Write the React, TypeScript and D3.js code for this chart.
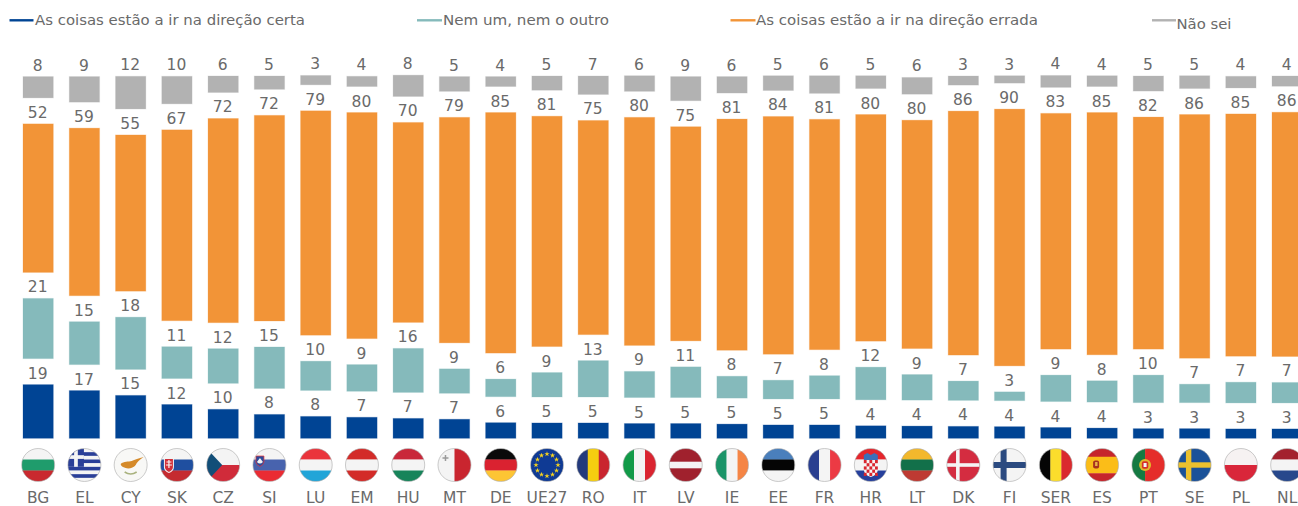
import React from "react";
import * as d3 from "d3";

const width = 1298;
const height = 506;

const countries = ["BG", "EL", "CY", "SK", "CZ", "SI", "LU", "EM", "HU", "MT", "DE", "UE27", "RO", "IT", "LV", "IE", "EE", "FR", "HR", "LT", "DK", "FI", "SER", "ES", "PT", "SE", "PL", "NL"];

// values, the labels are these rounded
const certa = [18.9, 16.8, 15.1, 11.9, 10.2, 8.4, 7.7, 7.4, 7.0, 6.7, 5.5, 5.4, 5.4, 5.2, 5.2, 5.0, 4.7, 4.7, 4.4, 4.3, 4.2, 4.1, 3.8, 3.6, 3.4, 3.4, 3.3, 3.3];
const nemNem = [21.2, 15.1, 18.4, 11.2, 12.2, 14.6, 10.3, 9.4, 15.5, 8.6, 6.2, 8.6, 12.8, 9.2, 10.8, 7.7, 6.6, 8.2, 11.5, 9.0, 6.8, 3.1, 9.3, 7.5, 9.7, 6.5, 7.3, 7.2];
const errada = [52.3, 59.0, 55.0, 67.2, 71.9, 72.4, 79.0, 79.6, 70.4, 79.4, 84.7, 81.1, 75.4, 80.3, 75.4, 81.4, 83.7, 81.1, 79.8, 80.4, 85.9, 90.4, 83.0, 85.3, 81.7, 85.8, 85.3, 86.0];
const naoSei = [7.5, 9.0, 11.5, 9.7, 5.8, 4.7, 3.3, 3.6, 7.5, 5.2, 3.5, 5.0, 6.5, 5.5, 8.5, 5.8, 5.2, 6.2, 4.5, 5.9, 3.2, 2.6, 4.2, 3.8, 5.3, 4.5, 4.1, 3.6];

// the empty part between two segments, the value labels sit in it
const spacer = 9.15;

const seriesKeys = ["certa", "gap1", "nemNem", "gap2", "errada", "gap3", "naoSei"];
const colors: Record<string, string> = { certa: "#004494", nemNem: "#85BABB", errada: "#F29437", naoSei: "#B2B2B2" };

const legend = [
  { label: "As coisas estão a ir na direção certa", key: "certa", x: 9.5, end: 33.5, textX: 35, textY: 20, fit: 270 },
  { label: "Nem um, nem o outro", key: "nemNem", x: 417, end: 442, textX: 443, textY: 20, fit: 166 },
  { label: "As coisas estão a ir na direção errada", key: "errada", x: 730.5, end: 755.5, textX: 756, textY: 20, fit: 282 },
  { label: "Não sei", key: "naoSei", x: 1152, end: 1176, textX: 1176.5, textY: 24, fit: 55 },
];

const rows = countries.map((c, i) => ({
  country: c,
  certa: certa[i],
  gap1: spacer,
  nemNem: nemNem[i],
  gap2: spacer,
  errada: errada[i],
  gap3: spacer,
  naoSei: naoSei[i],
}));

const stacked = d3.stack<any>().keys(seriesKeys)(rows);

const x = d3.scaleBand().domain(countries).range([23, 1302.3]).paddingInner(0.345).paddingOuter(0);
const y = d3.scaleLinear().domain([0, 100 + 3 * spacer]).range([438.3, 76.3]);

const FONT = "Verdana, 'DejaVu Sans', sans-serif";
const TEXT = "#6A6A6A";
const R = 16.5;

// flags are horizontal or vertical stripes, the rest is added in FlagDetail
const hStripes: Record<string, [string, number][]> = {
  BG: [["#F4F4F4", 1], ["#1F9C6C", 1], ["#C9292F", 1]],
  SK: [["#F4F4F4", 1], ["#1F4FA0", 1], ["#C52B30", 1]],
  CZ: [["#F4F4F4", 1], ["#D02B3A", 1]],
  SI: [["#F4F4F4", 1], ["#4863AE", 1], ["#EA2B33", 1]],
  LU: [["#EA343C", 1], ["#F4F4F4", 1], ["#21A5D8", 1]],
  EM: [["#D32B28", 1], ["#F4F4F4", 1], ["#D32B28", 1]],
  HU: [["#C9283A", 1], ["#F4F4F4", 1], ["#17845A", 1]],
  DE: [["#0A0A0A", 1], ["#DA2230", 1], ["#FDC534", 1]],
  LV: [["#A0212D", 2], ["#F4F4F4", 1], ["#A0212D", 2]],
  EE: [["#4A7FBC", 1], ["#050505", 1], ["#F4F4F4", 1]],
  HR: [["#E5252C", 1], ["#F4F4F4", 1], ["#26409C", 1]],
  LT: [["#F2B82C", 1], ["#12704A", 1], ["#BE3A32", 1]],
  ES: [["#C6252C", 1], ["#FBBD18", 2], ["#C6252C", 1]],
  PL: [["#F6F2F2", 1], ["#D9263A", 1]],
  NL: [["#A3222E", 1], ["#F4F4F4", 1], ["#27488C", 1]],
  DK: [["#D42C40", 1]],
  FI: [["#F4F4F4", 1]],
  SE: [["#1B5299", 1]],
  CY: [["#F8F8F6", 1]],
  UE27: [["#0F3A94", 1]],
  EL: [["#F4F4F4", 1], ["#2A3F98", 1], ["#F4F4F4", 1], ["#2A3F98", 1], ["#F4F4F4", 1], ["#2A3F98", 1], ["#F4F4F4", 1], ["#2A3F98", 1], ["#F4F4F4", 1]],
};
const vStripes: Record<string, [string, number][]> = {
  MT: [["#F4F4F4", 1], ["#C9252F", 1]],
  RO: [["#233A7C", 1], ["#F5CE10", 1], ["#C9252F", 1]],
  IT: [["#129A48", 1], ["#F4F4F4", 1], ["#DA2430", 1]],
  IE: [["#1A9468", 1], ["#F4F4F4", 1], ["#F58545", 1]],
  FR: [["#2A3F90", 1], ["#F4F4F4", 1], ["#EC3A44", 1]],
  SER: [["#050505", 1], ["#FBDD2C", 1], ["#DA2A2E", 1]],
  PT: [["#157A42", 2], ["#E52D2A", 3]],
};

function Stripes({ code }: { code: string }) {
  const h = hStripes[code];
  const v = vStripes[code];
  const parts = h || v;
  const total = d3.sum(parts, (p) => p[1]);
  const scale = d3.scaleLinear().domain([0, total]).range([-R, R]);
  let at = 0;
  return (
    <>
      {parts.map(([color, w], i) => {
        const a = scale(at);
        at += w;
        const size = scale(at) - a + (i < parts.length - 1 ? 0.3 : 0);
        return h ? (
          <rect key={i} x={-R} y={a} width={2 * R} height={size} fill={color} />
        ) : (
          <rect key={i} x={a} y={-R} width={size} height={2 * R} fill={color} />
        );
      })}
    </>
  );
}

function Cross({ cx, color, w }: { cx: number; color: string; w: number }) {
  return (
    <>
      <rect x={cx - w / 2} y={-R} width={w} height={2 * R} fill={color} />
      <rect x={-R} y={-w / 2} width={2 * R} height={w} fill={color} />
    </>
  );
}

function FlagDetail({ code }: { code: string }) {
  if (code === "EL") {
    return (
      <>
        <rect x={-R} y={-R} width={16} height={18.3} fill="#2A3F98" />
        <rect x={-R} y={-9.8} width={16} height={3.7} fill="#F4F4F4" />
        <rect x={-10.3} y={-R} width={3.7} height={18.3} fill="#F4F4F4" />
      </>
    );
  }
  if (code === "CY") {
    return (
      <>
        <path d="M-10,-1 C-7,-4 -2,-3 1,-4 C4,-5 8,-7 13,-8 C9,-5 6,-3 5,0 C3,3 -2,4 -5,3 C-8,2 -10,1 -10,-1 Z" fill="#D58A2A" />
        <path d="M-6,7 Q0,11 6,7" fill="none" stroke="#A9B27E" strokeWidth={1.6} />
      </>
    );
  }
  if (code === "SK") {
    return (
      <>
        <path d="M-13,-7 H-3 V2 Q-3,6 -8,8 Q-13,6 -13,2 Z" fill="#F4F4F4" />
        <path d="M-12,-6 H-4 V2 Q-4,5 -8,7 Q-12,5 -12,2 Z" fill="#D2303A" />
        <path d="M-8,-5 V3 M-10.5,-3 H-5.5 M-11,0 H-5" stroke="#F4F4F4" strokeWidth={1.2} />
      </>
    );
  }
  if (code === "CZ") {
    return <path d={`M${-R},${-R} L-1,0 L${-R},${R} Z`} fill="#124E78" />;
  }
  if (code === "SI") {
    return (
      <>
        <path d="M-13.5,-9 H-5.5 V-3 Q-6,0 -9.5,1.5 Q-13,0 -13.5,-3 Z" fill="#2B4A9C" stroke="#E33" strokeWidth={0.7} />
        <path d="M-12.5,-3 L-9.5,-7 L-6.5,-3 Q-9.5,0 -12.5,-3 Z" fill="#F4F4F4" />
      </>
    );
  }
  if (code === "MT") {
    return (
      <path d="M-9,-10 V-4 M-12,-7 H-6" stroke="#9A9A9A" strokeWidth={1.5} />
    );
  }
  if (code === "UE27") {
    const stars = d3.range(12).map((i) => (i * Math.PI) / 6);
    const star = d3.symbol().type(d3.symbolStar).size(9)() as string;
    return (
      <>
        {stars.map((a, i) => (
          <path key={i} d={star} transform={`translate(${11 * Math.sin(a)},${-11 * Math.cos(a)})`} fill="#F7D21E" />
        ))}
      </>
    );
  }
  if (code === "HR") {
    const cells = d3.cross(d3.range(5), d3.range(5));
    return (
      <>
        <path d="M-7,-10 L-3.5,-12 L0,-10 L3.5,-12 L7,-10 L7,-5 H-7 Z" fill="#3A6FB8" />
        <path d="M-7,-5 H7 V4 Q7,10 0,12 Q-7,10 -7,4 Z" fill="#F4F4F4" />
        {cells
          .filter(([a, b]) => (a + b) % 2 === 0)
          .map(([a, b]) => (
            <rect key={`${a}${b}`} x={-7 + a * 2.8} y={-5 + b * 3.2} width={2.8} height={3.2} fill="#D9252E" />
          ))}
      </>
    );
  }
  if (code === "DK") return <Cross cx={-5.5} color="#F4F4F4" w={3.6} />;
  if (code === "FI") return <Cross cx={-6} color="#2B4A80" w={6} />;
  if (code === "SE") return <Cross cx={-6} color="#ECC12E" w={5.4} />;
  if (code === "ES") {
    return (
      <>
        <rect x={-9} y={-4.5} width={6} height={8} rx={2} fill="#A8311E" />
        <rect x={-7} y={-3} width={2.4} height={4} fill="#E8B04A" />
      </>
    );
  }
  if (code === "PT") {
    return (
      <>
        <circle cx={-3.3} cy={0} r={6} fill="#E2B72A" />
        <rect x={-6.5} y={-3.8} width={6.4} height={7.6} rx={2} fill="#D7302A" />
        <rect x={-4.8} y={-2} width={3} height={4} fill="#F4F4F4" />
      </>
    );
  }
  return null;
}

function Flag({ code, cx }: { code: string; cx: number }) {
  return (
    <g transform={`translate(${cx},465)`}>
      <g clipPath="url(#flagClip)">
        <Stripes code={code} />
        <FlagDetail code={code} />
      </g>
      <circle r={R} fill="none" stroke="#A8A8A8" strokeWidth={0.6} />
    </g>
  );
}

export default function App() {
  return (
    <svg width={width} height={height} style={{ position: "absolute", left: 0, top: 0, background: "#fff" }} fontFamily={FONT}>
      <defs>
        <clipPath id="flagClip">
          <circle r={R} />
        </clipPath>
      </defs>

      {legend.map((d) => (
        <g key={d.key}>
          <line x1={d.x} x2={d.end} y1={20.3} y2={20.3} stroke={colors[d.key]} strokeWidth={2.4} />
          <text x={d.textX} y={d.textY} dy="0.35em" fontSize={14} fill={TEXT} textLength={d.fit} lengthAdjust="spacingAndGlyphs">
            {d.label}
          </text>
        </g>
      ))}

      {stacked
        .filter((s) => colors[s.key])
        .map((s) => (
          <g key={s.key}>
            {s.map((d) => {
              const top = y(d[1]);
              const bx = x(d.data.country) as number;
              return (
                <g key={d.data.country}>
                  <rect
                    x={bx}
                    y={top}
                    width={x.bandwidth()}
                    height={y(d[0]) - top}
                    fill={colors[s.key]}
                    stroke={colors[s.key]}
                    strokeOpacity={0.25}
                    strokeWidth={1}
                  />
                  <text x={bx + x.bandwidth() / 2 - 0.5} y={top - 6} textAnchor="middle" fontSize={15.5} fill={TEXT}>
                    {Math.round(d[1] - d[0])}
                  </text>
                </g>
              );
            })}
          </g>
        ))}

      {countries.map((c) => {
        const cx = (x(c) as number) + x.bandwidth() / 2;
        return (
          <g key={c}>
            <Flag code={c} cx={cx} />
            <text x={cx} y={498} dy="0.35em" textAnchor="middle" fontSize={15.5} fill={TEXT}>
              {c}
            </text>
          </g>
        );
      })}
    </svg>
  );
}
